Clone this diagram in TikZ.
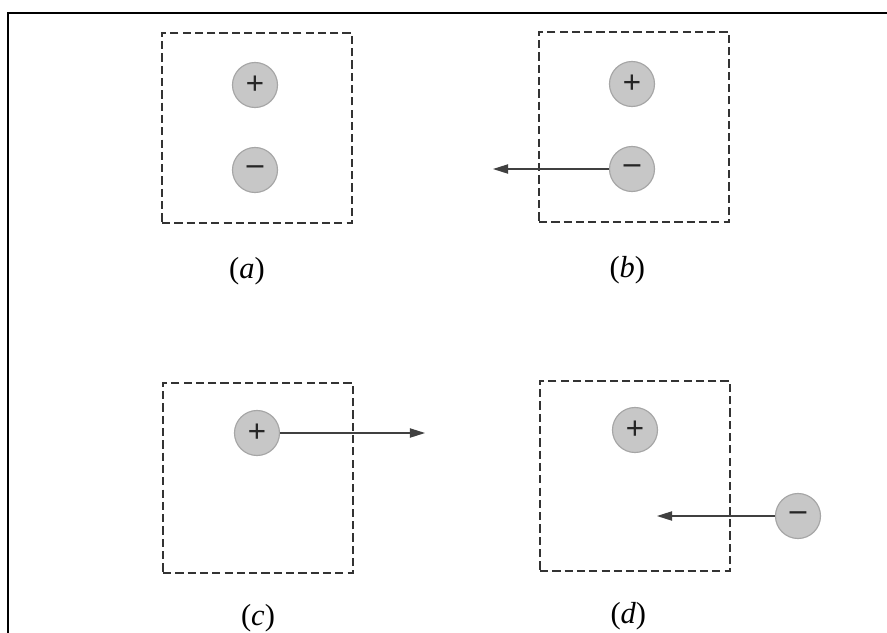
\documentclass[tikz,border=0pt]{standalone}
\usepackage{fontspec}
\setmainfont{Liberation Serif}
\usetikzlibrary{arrows.meta, positioning, calc}

\tikzset{
  region/.style={draw=black!80, dash pattern=on 7pt off 3.5pt, line width=1.6pt, minimum size=5.7cm, inner sep=0pt},
  charge/.style={circle, draw=black!35, fill=black!22, line width=1pt, minimum size=1.35cm, inner sep=0pt, text=black!85, font=\fontsize{28}{28}\selectfont\bfseries},
  caption/.style={font=\fontsize{26}{30}\selectfont, inner sep=0pt},
  force/.style={->, draw=black!75, line width=1pt},
}

\begin{document}
\begin{tikzpicture}[x=0.03cm, y=-0.03cm, >={Triangle[length=13pt, width=8pt]}, node distance=1cm]
    % Frame
    \useasboundingbox (0,0) rectangle (887,632);
    \draw[line width=2.4pt] (8,640) -- (8,13) -- (890,13);

    % Boxes
    \node[region] (boxA) at (257,128) {};
    \node[region] (boxB) at (634,127) {};
    \node[region] (boxC) at (258,478) {};
    \node[region] (boxD) at (635,476) {};

    % Charges
    \node[charge] (plusA) at (255,85) {+};
    \node[charge] (minusA) at (255,170) {--};
    \node[charge] (plusB) at (632,84) {+};
    \node[charge] (minusB) at (632,169) {--};
    \node[charge] (plusC) at (257,433) {+};
    \node[charge] (plusD) at (635,430) {+};
    \node[charge] (minusD) at (798,516) {--};

    % Arrow ends
    \coordinate (tipB) at (493,169);
    \coordinate (tipC) at (425,433);
    \coordinate (tipD) at (657,516);

    % Forces
    \draw[force] (minusB) -- (tipB);
    \draw[force] (plusC) -- (tipC);
    \draw[force] (minusD) -- (tipD);

    % Captions
    \node[caption] (capA) [below=1cm of boxA, xshift=-0.3cm] {(\textit{a})};
    \node[caption] (capB) [below=1cm of boxB, xshift=-0.2cm] {(\textit{b})};
    \node[caption] (capC) [below=0.9cm of boxC] {(\textit{c})};
    \node[caption] (capD) [below=0.9cm of boxD, xshift=-0.2cm] {(\textit{d})};
\end{tikzpicture}
\end{document}
